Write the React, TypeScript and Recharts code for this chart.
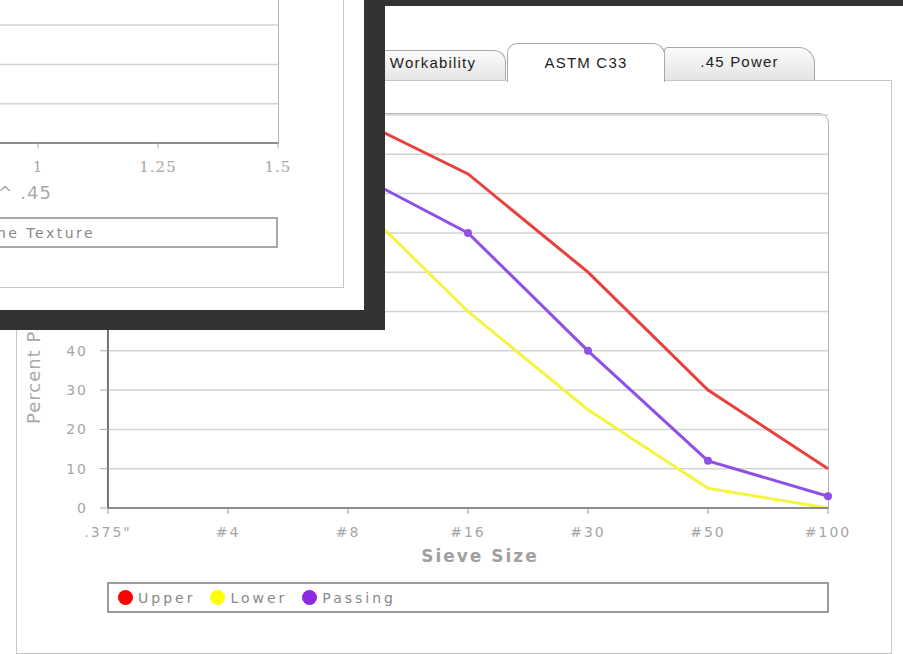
import React from "react";
import { LineChart, Line, XAxis, YAxis, CartesianGrid, Legend, Label } from "recharts";

// ASTM C33 fine aggregate band + sample gradation
const SIEVES = ['.375"', "#4", "#8", "#16", "#30", "#50", "#100"];
const UPPER = [100, 100, 100, 85, 60, 30, 10];
const LOWER = [100, 95, 80, 50, 25, 5, 0];
const PASSING = [100, 97, 86, 70, 40, 12, 3];
const PCT_TICKS = [0, 10, 20, 30, 40, 50, 60, 70, 80, 90, 100];

// the ".45 power" window lying on top (sieve size in inches ^ .45)
const POW_TICKS = [0, 0.25, 0.5, 0.75, 1, 1.25, 1.5];
const SIEVE_POW = [0.643, 0.47, 0.344, 0.252, 0.185, 0.135, 0.099];

const SERIES = [
  { key: "upper", name: "Upper", line: "#e8403c", icon: "#ff0000", dot: false },
  { key: "lower", name: "Lower", line: "#f4f443", icon: "#ffff00", dot: false },
  { key: "passing", name: "Passing", line: "#9050e8", icon: "#8a2be2", dot: true },
];

const FONT = "'DejaVu Sans', Verdana, sans-serif";
const TAB_FONT = "'Liberation Sans', Arial, sans-serif";

const data = SIEVES.map((s, i) => ({
  sieve: s,
  upper: UPPER[i],
  lower: LOWER[i],
  passing: PASSING[i],
}));

const insetData = SIEVE_POW.map((x, i) => ({ x, passing: PASSING[i] }));

const orderOf = (k: string) => SERIES.findIndex((s) => s.key === k);
const iconFor = (k: string) => SERIES.find((s) => s.key === k)?.icon ?? "#999";

const renderLegend = (props: any) => {
  const items = [...(props.payload || [])].sort(
    (a: any, b: any) => orderOf(a.dataKey) - orderOf(b.dataKey)
  );
  return (
    <div
      style={{
        boxSizing: "border-box",
        width: "100%",
        height: "100%",
        border: "2px solid #9c9c9c",
        display: "flex",
        alignItems: "center",
        paddingLeft: 9,
        fontFamily: FONT,
        fontSize: 14,
        letterSpacing: 3,
        color: "#888",
      }}
    >
      {items.map((p: any) => (
        <span key={p.value} style={{ display: "flex", alignItems: "center", marginRight: 15 }}>
          <span
            style={{ width: 15, height: 15, borderRadius: "50%", background: iconFor(p.dataKey) }}
          />
          <span style={{ marginLeft: 5 }}>{p.value}</span>
        </span>
      ))}
    </div>
  );
};

const renderInsetLegend = (props: any) => (
  <div
    style={{
      boxSizing: "border-box",
      width: "100%",
      height: "100%",
      border: "2px solid #a8a8a8",
      display: "flex",
      alignItems: "center",
      paddingLeft: 160,
      fontFamily: FONT,
      fontSize: 14,
      letterSpacing: 2.5,
      color: "#888",
    }}
  >
    {(props.payload || []).map((p: any) => (
      <span key={p.value} style={{ display: "flex", alignItems: "center" }}>
        <span style={{ width: 14, height: 14, borderRadius: "50%", background: "#8a2be2" }} />
        <span style={{ marginLeft: 5 }}>{p.value}</span>
      </span>
    ))}
  </div>
);

const xTitle = ({ viewBox }: any) => (
  <text
    x={viewBox.x + viewBox.width / 2 + 12}
    y={viewBox.y + 48}
    textAnchor="middle"
    dominantBaseline="central"
    fill="#a0a0a0"
    fontFamily={FONT}
    fontWeight="bold"
    fontSize={17}
    letterSpacing={2}
  >
    Sieve Size
  </text>
);

const yTitle = ({ viewBox }: any) => {
  const tx = viewBox.x - 15;
  const ty = viewBox.y + viewBox.height - 84;
  return (
    <text
      x={tx}
      y={ty}
      transform={`rotate(-90 ${tx} ${ty})`}
      textAnchor="start"
      dominantBaseline="central"
      fill="#a8a8a8"
      fontFamily={FONT}
      fontSize={18}
      letterSpacing={1}
    >
      Percent Passing
    </text>
  );
};

const insetXTitle = ({ viewBox }: any) => (
  <text
    x={viewBox.x + 494}
    y={viewBox.y + 49}
    textAnchor="end"
    dominantBaseline="central"
    fill="#aaa"
    fontFamily={FONT}
    fontSize={18}
    letterSpacing={1}
  >
    Sieve Size ^ .45
  </text>
);

const tabBase: React.CSSProperties = {
  position: "absolute",
  boxSizing: "border-box",
  border: "1px solid #a9a9a9",
  borderBottom: "none",
  display: "flex",
  alignItems: "center",
  justifyContent: "center",
  fontFamily: TAB_FONT,
  fontSize: 15,
  letterSpacing: 1.2,
  color: "#1e1e1e",
};

export default function App() {
  return (
    <div
      style={{
        position: "absolute",
        left: 0,
        top: 0,
        width: 903,
        height: 654,
        overflow: "hidden",
        background: "#fff",
      }}
    >
      {/* tab panel */}
      <div
        style={{
          position: "absolute",
          left: 16,
          top: 80,
          width: 876,
          height: 574,
          boxSizing: "border-box",
          border: "1.5px solid #c6c6c6",
        }}
      />
      <div
        style={{
          ...tabBase,
          left: 300,
          top: 50,
          width: 206,
          height: 30,
          paddingLeft: 60,
          paddingBottom: 6,
          background: "linear-gradient(#fbfbfb, #e6e6e6)",
          borderTopRightRadius: 12,
        }}
      >
        Workability
      </div>
      <div
        style={{
          ...tabBase,
          left: 664,
          top: 47,
          width: 151,
          height: 33,
          paddingBottom: 5,
          background: "linear-gradient(#fbfbfb, #e4e4e4)",
          borderTopLeftRadius: 4,
          borderTopRightRadius: 16,
        }}
      >
        .45 Power
      </div>
      <div
        style={{
          ...tabBase,
          left: 507,
          top: 43,
          width: 158,
          height: 39,
          paddingBottom: 2,
          background: "#fff",
          borderTopLeftRadius: 10,
          borderTopRightRadius: 12,
        }}
      >
        ASTM C33
      </div>

      {/* plot frame with the rounded corner */}
      <div
        style={{
          position: "absolute",
          left: 107,
          top: 113,
          width: 722,
          height: 396,
          boxSizing: "border-box",
          border: "1.5px solid #b4b4b4",
          borderTopRightRadius: 10,
          borderTopLeftRadius: 10,
        }}
      />

      <div style={{ position: "absolute", left: 0, top: 0 }}>
        <LineChart
          width={903}
          height={654}
          data={data}
          margin={{ top: 115, right: 75, bottom: 106, left: 48 }}
        >
          <CartesianGrid vertical={false} stroke="#d3d3d3" strokeWidth={1.5} />
          <XAxis
            dataKey="sieve"
            height={40}
            interval={0}
            tickSize={6}
            tickMargin={13}
            stroke="#8c8c8c"
            strokeWidth={2}
            tickLine={{ stroke: "#999", strokeWidth: 1 }}
            tick={{ fill: "#a6a6a6", fontSize: 14, fontFamily: FONT, letterSpacing: 2 }}
            label={<Label content={xTitle} />}
          />
          <YAxis
            width={60}
            domain={[0, 100]}
            ticks={PCT_TICKS}
            tickSize={8}
            tickMargin={12}
            stroke="#555"
            strokeWidth={1.5}
            tickLine={{ stroke: "#aaa", strokeWidth: 1 }}
            tick={{ fill: "#a6a6a6", fontSize: 14, fontFamily: FONT, letterSpacing: 2 }}
            label={<Label content={yTitle} />}
          />
          <Legend
            layout="horizontal"
            verticalAlign="middle"
            align="center"
            wrapperStyle={{ left: 107, top: 582, width: 722, height: 31 }}
            content={renderLegend}
          />
          {SERIES.map((s) => (
            <Line
              key={s.key}
              type="linear"
              dataKey={s.key}
              name={s.name}
              stroke={s.line}
              strokeWidth={3}
              dot={s.dot ? { r: 4, fill: s.line, stroke: s.line, strokeWidth: 0 } : false}
              activeDot={false}
              isAnimationActive={false}
            />
          ))}
        </LineChart>
      </div>

      {/* the .45 power window lying over the top-left */}
      <div
        style={{
          position: "absolute",
          left: 0,
          top: 0,
          width: 364,
          height: 310,
          overflow: "hidden",
          background: "#fff",
        }}
      >
        <div
          style={{
            position: "absolute",
            left: -10,
            top: -10,
            width: 354,
            height: 298,
            boxSizing: "border-box",
            border: "1.5px solid #c8c8c8",
          }}
        />
        <div
          style={{
            position: "absolute",
            left: -450,
            top: -262,
            width: 729,
            height: 406,
            boxSizing: "border-box",
            border: "1.5px solid #b4b4b4",
            borderTopRightRadius: 10,
          }}
        />
        <div style={{ position: "absolute", left: -462, top: -260 }}>
          <LineChart
            width={800}
            height={560}
            data={insetData}
            margin={{ top: 10, right: 60, bottom: 97, left: 20 }}
          >
            <CartesianGrid vertical={false} stroke="#d3d3d3" strokeWidth={1.5} />
            <XAxis
              type="number"
              dataKey="x"
              domain={[0, 1.5]}
              ticks={POW_TICKS}
              allowDataOverflow
              height={60}
              tickSize={5}
              tickMargin={13}
              stroke="#8c8c8c"
              strokeWidth={2}
              tickLine={{ stroke: "#aaa", strokeWidth: 1 }}
              tick={{ fill: "#a8a8a8", fontSize: 15, fontFamily: "'DejaVu Serif', serif", letterSpacing: 1 }}
              label={<Label content={insetXTitle} />}
            />
            <YAxis hide domain={[0, 100]} ticks={PCT_TICKS} />
            <Legend
              layout="horizontal"
              verticalAlign="middle"
              align="center"
              wrapperStyle={{ left: 262, top: 477, width: 478, height: 31 }}
              content={renderInsetLegend}
            />
            <Line
              type="linear"
              dataKey="passing"
              name="Fine Texture"
              stroke="#9050e8"
              strokeWidth={3}
              dot={false}
              isAnimationActive={false}
            />
          </LineChart>
        </div>
      </div>

      {/* dark frame of the overlapping window */}
      <div style={{ position: "absolute", left: 364, top: 0, width: 539, height: 6, background: "#333" }} />
      <div style={{ position: "absolute", left: 364, top: 0, width: 21, height: 330, background: "#333" }} />
      <div style={{ position: "absolute", left: 0, top: 310, width: 385, height: 20, background: "#333" }} />
    </div>
  );
}
